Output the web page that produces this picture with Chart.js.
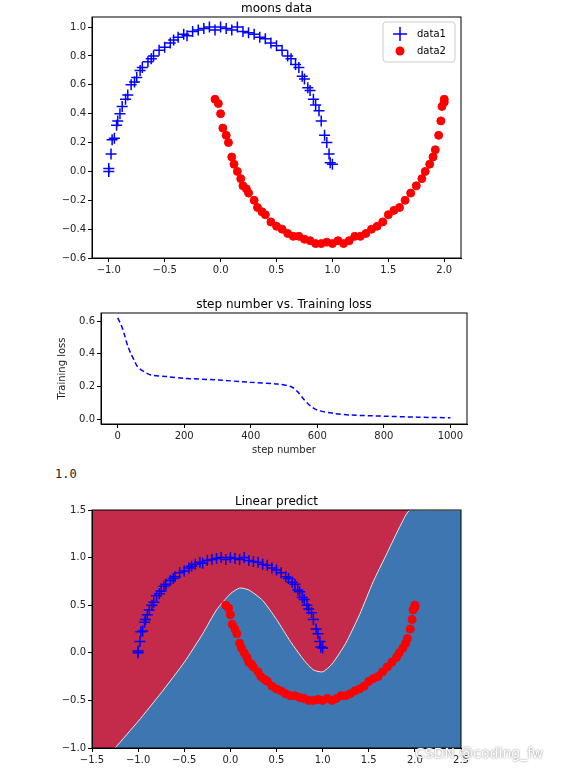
<!DOCTYPE html>
<html><head><meta charset="utf-8">
<script src="https://cdn.jsdelivr.net/npm/chart.js@4/dist/chart.umd.min.js"></script>
<style>
body{margin:0;background:#fff;width:579px;height:776px;position:relative;overflow:hidden;font-family:"DejaVu Sans"}
canvas{position:absolute;left:0}
#txt{position:absolute;left:55px;top:467px;font:12px "DejaVu Sans Mono";color:#222}
#wm{position:absolute;left:415px;top:745px;font:14px "DejaVu Sans";color:#fff;text-shadow:0 0 2px #666}
</style></head><body>
<canvas id="c1" width="579" height="280" style="top:0"></canvas>
<canvas id="c2" width="579" height="170" style="top:290px"></canvas>
<div id="txt">1.0</div>
<canvas id="c3" width="579" height="296" style="top:480px"></canvas>
<div id="wm">CSDN @coding_fw</div>
<script>
const moon1X = [-1.0,-1.0,-0.98,-0.97,-0.95,-0.93,-0.92,-0.9,-0.88,-0.85,-0.83,-0.8,-0.77,-0.75,-0.72,-0.7,-0.65,-0.62,-0.6,-0.55,-0.5,-0.45,-0.42,-0.38,-0.33,-0.3,-0.25,-0.2,-0.15,-0.1,-0.05,0.0,0.05,0.1,0.15,0.2,0.25,0.3,0.35,0.4,0.45,0.5,0.55,0.6,0.63,0.67,0.7,0.73,0.75,0.78,0.8,0.83,0.85,0.88,0.9,0.93,0.95,0.97,0.98,1.0];
const moon1Y = [0.0,0.02,0.12,0.22,0.23,0.32,0.35,0.4,0.45,0.5,0.53,0.6,0.62,0.65,0.7,0.72,0.76,0.78,0.8,0.84,0.86,0.89,0.91,0.93,0.95,0.94,0.97,0.98,0.99,1.0,0.98,1.0,0.99,0.98,1.0,0.97,0.96,0.95,0.93,0.92,0.89,0.87,0.84,0.8,0.78,0.74,0.72,0.66,0.64,0.58,0.56,0.5,0.46,0.42,0.35,0.25,0.2,0.12,0.06,0.05];
const moon2X = [-0.05,-0.02,0.0,0.02,0.05,0.07,0.1,0.12,0.15,0.18,0.2,0.23,0.25,0.3,0.33,0.37,0.4,0.45,0.5,0.55,0.6,0.65,0.7,0.75,0.8,0.85,0.9,0.95,1.0,1.05,1.1,1.15,1.2,1.25,1.3,1.35,1.4,1.45,1.5,1.55,1.6,1.65,1.7,1.75,1.8,1.83,1.87,1.9,1.92,1.95,1.97,1.98,2.0,2.0];
const moon2Y = [0.5,0.47,0.4,0.3,0.25,0.2,0.1,0.05,0.0,-0.05,-0.1,-0.12,-0.15,-0.2,-0.25,-0.28,-0.3,-0.35,-0.38,-0.4,-0.43,-0.45,-0.45,-0.47,-0.48,-0.5,-0.5,-0.49,-0.5,-0.48,-0.5,-0.48,-0.45,-0.45,-0.43,-0.4,-0.38,-0.35,-0.3,-0.27,-0.25,-0.2,-0.15,-0.1,-0.05,0.0,0.05,0.1,0.15,0.25,0.35,0.45,0.48,0.5];
const lossSteps = [0,10,20,30,40,50,60,80,100,150,200,300,400,480,520,540,560,580,600,650,700,800,900,1000];
const lossVals = [0.62,0.58,0.52,0.45,0.40,0.36,0.32,0.29,0.27,0.26,0.25,0.24,0.225,0.215,0.20,0.17,0.12,0.08,0.055,0.035,0.025,0.018,0.012,0.008];
const boundX = [-1.25,-1.0,-0.75,-0.5,-0.3,-0.15,0.0,0.1,0.2,0.35,0.5,0.65,0.8,0.9,1.0,1.1,1.25,1.4,1.55,1.7,1.85,1.95,2.5];
const boundY = [-1.0,-0.72,-0.42,-0.1,0.2,0.45,0.62,0.68,0.66,0.55,0.35,0.12,-0.08,-0.18,-0.2,-0.12,0.1,0.4,0.75,1.05,1.35,1.5,1.5];

const pts = (xs, ys) => xs.map((x, i) => ({x: x, y: ys[i]}));
Chart.defaults.font.family = 'DejaVu Sans';
Chart.defaults.font.size = 10;
Chart.defaults.color = '#222';
Chart.defaults.animation = false;
const fmt = v => (v < 0 ? '\u2212' : '') + Math.abs(v).toFixed(1);

function axis(min, max, step, size, horiz, title, f) {
  return {
    type: 'linear', min: min, max: max,
    ticks: {stepSize: step, callback: f || fmt, autoSkip: false, padding: 2, maxRotation: 0},
    grid: {drawOnChartArea: false, tickLength: 4, color: '#000'},
    border: {color: '#000'},
    title: title ? {display: true, text: title, padding: 0, font: {size: 10}} : {display: false},
    afterFit: s => { if (horiz) s.height = size; else s.width = size; },
    afterBuildTicks: s => { s.ticks = s.ticks.filter(t => t.value >= min - 1e-9); }
  };
}
const frame = (title, bg) => ({
  id: 'frame',
  beforeDraw(c) {
    const a = c.chartArea, x = c.ctx;
    if (bg) { x.fillStyle = bg; x.fillRect(a.left, a.top, a.right - a.left, a.bottom - a.top); }
  },
  afterDraw(c) {
    const a = c.chartArea, x = c.ctx;
    x.save(); x.strokeStyle = '#000'; x.lineWidth = 1;
    x.strokeRect(a.left, a.top, a.right - a.left, a.bottom - a.top);
    x.fillStyle = '#000'; x.font = '12px DejaVu Sans'; x.textAlign = 'center';
    x.fillText(title, (a.left + a.right) / 2, a.top - 5);
    x.restore();
  }
});
const legendBox = {
  id: 'legendBox',
  afterDraw(c) {
    const a = c.chartArea, x = c.ctx;
    const L = a.right - 78, T = a.top + 5;
    x.save();
    x.fillStyle = 'rgba(255,255,255,0.8)'; x.strokeStyle = '#ccc';
    x.beginPath(); x.roundRect(L, T, 72, 40, 3); x.fill(); x.stroke();
    x.strokeStyle = 'blue'; x.lineWidth = 1.5;
    x.beginPath(); x.moveTo(L + 10, T + 12); x.lineTo(L + 24, T + 12); x.moveTo(L + 17, T + 5); x.lineTo(L + 17, T + 19); x.stroke();
    x.fillStyle = 'red'; x.beginPath(); x.arc(L + 17, T + 29, 4.5, 0, 7); x.fill();
    x.fillStyle = '#000'; x.font = '10px DejaVu Sans'; x.textBaseline = 'middle';
    x.fillText('data1', L + 34, T + 12); x.fillText('data2', L + 34, T + 29);
    x.restore();
  }
};
const moonSets = () => [
  {label: 'data1', data: pts(moon1X, moon1Y), pointStyle: 'cross', radius: 5.5, borderColor: 'blue', borderWidth: 1.5, showLine: false},
  {label: 'data2', data: pts(moon2X, moon2Y), pointStyle: 'circle', radius: 4, backgroundColor: 'red', borderColor: 'red', showLine: false}
];

new Chart(document.getElementById('c1'), {
  type: 'scatter',
  data: {datasets: moonSets()},
  options: {
    responsive: false,
    layout: {padding: {left: 52, right: 118, top: 17, bottom: 0}},
    plugins: {legend: {display: false}, tooltip: {enabled: false}},
    scales: {
      x: Object.assign(axis(-1.15, 2.15, 0.5, 22, true), {afterBuildTicks: s => { s.ticks = [-1, -0.5, 0, 0.5, 1, 1.5, 2].map(v => ({value: v})); }}),
      y: Object.assign(axis(-0.6, 1.07, 0.2, 40, false), {afterBuildTicks: s => { s.ticks = [-0.6, -0.4, -0.2, 0, 0.2, 0.4, 0.6, 0.8, 1.0].map(v => ({value: v})); }})
    }
  },
  plugins: [frame('moons data'), legendBox]
});

new Chart(document.getElementById('c2'), {
  type: 'scatter',
  data: {datasets: [{data: pts(lossSteps, lossVals), showLine: true, borderColor: 'blue', borderWidth: 1.5, borderDash: [5, 3], pointRadius: 0, tension: 0.3}]},
  options: {
    responsive: false,
    layout: {padding: {left: 56, right: 112, top: 23, bottom: 4}},
    plugins: {legend: {display: false}, tooltip: {enabled: false}},
    scales: {
      x: Object.assign(axis(-50, 1050, 200, 32, true, 'step number', v => String(v)), {afterBuildTicks: s => { s.ticks = [0, 200, 400, 600, 800, 1000].map(v => ({value: v})); }}),
      y: Object.assign(axis(-0.03, 0.65, 0.2, 45, false, 'Training loss'), {afterBuildTicks: s => { s.ticks = [0, 0.2, 0.4, 0.6].map(v => ({value: v})); }})
    }
  },
  plugins: [frame('step number vs. Training loss')]
});

new Chart(document.getElementById('c3'), {
  type: 'scatter',
  data: {datasets: [
    {data: pts(boundX, boundY), showLine: true, fill: 'start', backgroundColor: '#3d76b0', borderColor: '#e8e8e8', borderWidth: 1, pointRadius: 0, tension: 0.2, order: 3}
  ].concat(moonSets())},
  options: {
    responsive: false,
    layout: {padding: {left: 52, right: 118, top: 30, bottom: 10}},
    plugins: {legend: {display: false}, tooltip: {enabled: false}},
    scales: {
      x: axis(-1.5, 2.5, 0.5, 18, true),
      y: axis(-1.0, 1.5, 0.5, 40, false)
    }
  },
  plugins: [frame('Linear predict', '#c42a4a')]
});
</script>
</body></html>
